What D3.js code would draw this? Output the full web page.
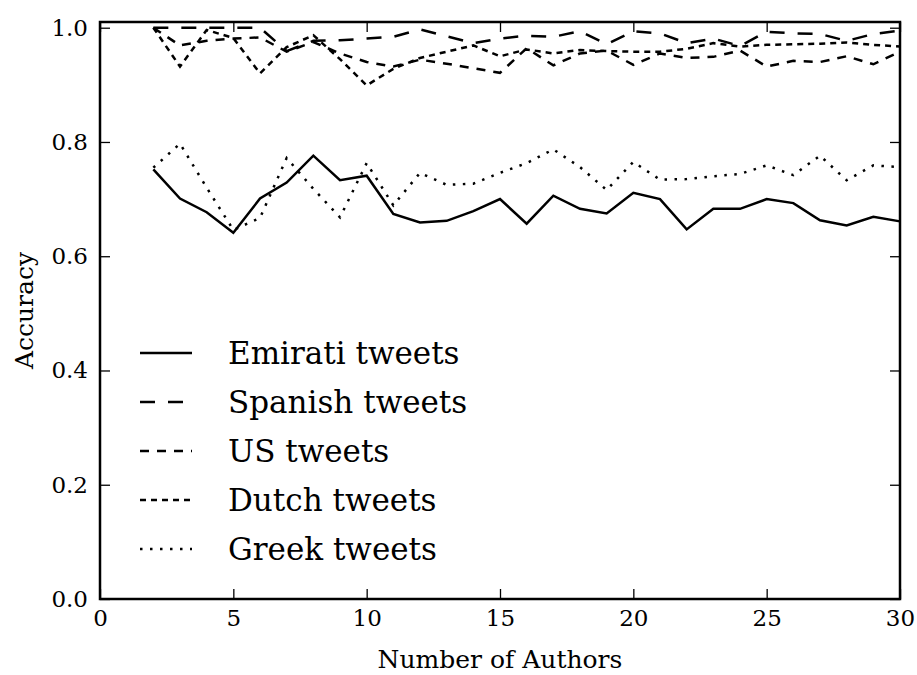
<!DOCTYPE html>
<html>
<head>
<meta charset="utf-8">
<script src="https://cdn.jsdelivr.net/npm/d3@7"></script>
<style>
  body { margin: 0; background: #fff; }
  svg text { font-family: "DejaVu Serif", serif; fill: #000; }
</style>
</head>
<body>
<svg id="chart" width="917" height="675"></svg>
<script>
// data
var authors = d3.range(2, 31);
var emirati = [0.752, 0.701, 0.677, 0.641, 0.701, 0.729, 0.776, 0.733, 0.741, 0.674, 0.659, 0.662, 0.679, 0.700, 0.657, 0.706, 0.683, 0.675, 0.711, 0.700, 0.647, 0.683, 0.683, 0.700, 0.693, 0.663, 0.654, 0.669, 0.661];
var spanish = [1.0, 1.0, 1.0, 1.0, 1.0, 0.959, 0.977, 0.978, 0.981, 0.984, 0.997, 0.985, 0.973, 0.981, 0.986, 0.984, 0.994, 0.971, 0.994, 0.990, 0.973, 0.981, 0.968, 0.993, 0.990, 0.989, 0.977, 0.989, 0.995];
var us = [1.0, 0.969, 0.977, 0.981, 0.983, 0.958, 0.975, 0.955, 0.940, 0.932, 0.944, 0.937, 0.929, 0.921, 0.964, 0.934, 0.955, 0.960, 0.935, 0.955, 0.947, 0.949, 0.960, 0.932, 0.942, 0.940, 0.950, 0.936, 0.958];
var dutch = [1.0, 0.932, 0.996, 0.982, 0.920, 0.966, 0.987, 0.945, 0.899, 0.928, 0.947, 0.958, 0.969, 0.950, 0.962, 0.955, 0.961, 0.959, 0.958, 0.958, 0.963, 0.973, 0.967, 0.970, 0.971, 0.972, 0.974, 0.970, 0.967];
var greek = [0.755, 0.797, 0.720, 0.646, 0.667, 0.772, 0.718, 0.668, 0.763, 0.689, 0.746, 0.725, 0.727, 0.746, 0.763, 0.787, 0.756, 0.716, 0.765, 0.734, 0.735, 0.740, 0.744, 0.759, 0.742, 0.776, 0.733, 0.759, 0.756];

var seriesNames = ["Emirati tweets", "Spanish tweets", "US tweets", "Dutch tweets", "Greek tweets"];
var seriesValues = [emirati, spanish, us, dutch, greek];
var dashes = [null, "15,13", "9,8", "6,5", "2.5,7.5"];

var xTicks = [0, 5, 10, 15, 20, 25, 30];
var yTicks = [0.0, 0.2, 0.4, 0.6, 0.8, 1.0];

drawChart();

function drawChart() {
    const left = 100, right = 900, top = 22, bottom = 599;
    const svg = d3.select("#chart");

    const x = d3.scaleLinear().domain([0, 30]).range([left, right]);
    const y = d3.scaleLinear().domain([0, 1.01]).range([bottom, top]);

    // lines
    const line = d3.line()
        .x((d, i) => x(authors[i]))
        .y(d => y(d));

    seriesValues.forEach(function(vals, k) {
        svg.append("path")
            .datum(vals)
            .attr("d", line)
            .attr("fill", "none")
            .attr("stroke", "#000")
            .attr("stroke-width", 2.5)
            .attr("stroke-dasharray", dashes[k])
            .attr("stroke-linecap", "butt")
            .attr("stroke-linejoin", "miter");
    });

    // axes, ticks pointing inward
    const fmtY = d3.format(".1f");
    const gx = svg.append("g").attr("transform", `translate(0,${bottom})`)
        .call(d3.axisBottom(x).tickValues(xTicks).tickSizeInner(-10).tickSizeOuter(0).tickPadding(20));
    const gxTop = svg.append("g").attr("transform", `translate(0,${top})`)
        .call(d3.axisTop(x).tickValues(xTicks).tickSizeInner(-10).tickSizeOuter(0).tickFormat(""));
    const gy = svg.append("g").attr("transform", `translate(${left},0)`)
        .call(d3.axisLeft(y).tickValues(yTicks).tickFormat(fmtY).tickSizeInner(-10).tickSizeOuter(0).tickPadding(12));
    const gyRight = svg.append("g").attr("transform", `translate(${right},0)`)
        .call(d3.axisRight(y).tickValues(yTicks).tickSizeInner(-10).tickSizeOuter(0).tickFormat(""));

    [gx, gxTop, gy, gyRight].forEach(function(g) {
        g.select(".domain").remove();
        g.selectAll(".tick line").attr("stroke", "#000").attr("stroke-width", 1.3);
        g.selectAll(".tick text").attr("font-size", 23).attr("font-family", "DejaVu Serif");
    });
    gx.selectAll(".tick text").attr("dy", "0.3em");

    // frame
    svg.append("rect")
        .attr("x", left).attr("y", top)
        .attr("width", right - left).attr("height", bottom - top)
        .attr("fill", "none").attr("stroke", "#000").attr("stroke-width", 2.5);

    // axis titles
    svg.append("text")
        .attr("x", (left + right) / 2).attr("y", 668)
        .attr("text-anchor", "middle").attr("font-size", 25)
        .text("Number of Authors");
    svg.append("text")
        .attr("transform", `translate(33,${(top + bottom) / 2}) rotate(-90)`)
        .attr("text-anchor", "middle").attr("font-size", 25)
        .text("Accuracy");

    // legend
    const legend = svg.append("g");
    seriesNames.forEach(function(name, k) {
        const ly = 353 + k * 49;
        legend.append("line")
            .attr("x1", 140).attr("x2", 192)
            .attr("y1", ly).attr("y2", ly)
            .attr("stroke", "#000").attr("stroke-width", 2.5)
            .attr("stroke-dasharray", dashes[k]);
        legend.append("text")
            .attr("x", 228).attr("y", ly)
            .attr("dy", "0.35em")
            .attr("font-size", 31)
            .text(name);
    });
}
</script>
</body>
</html>
